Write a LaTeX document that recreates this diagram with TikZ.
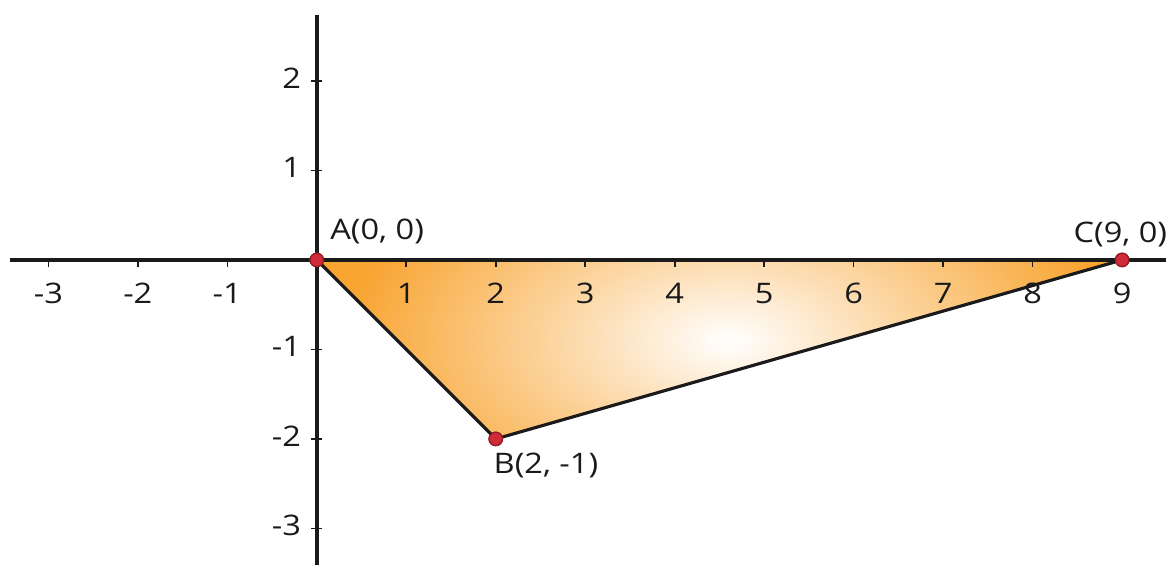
\documentclass[tikz,border=0pt]{standalone}
\usepackage{fontspec}
\setmainfont{Open Sans}[FakeStretch=1.15]
\usetikzlibrary{positioning}
\definecolor{Peel}{HTML}{F8A431}
\definecolor{Pin}{HTML}{D22B38}
\definecolor{Ink}{HTML}{1A1A1A}

\begin{document}
\begin{tikzpicture}[x=1cm,y=1cm,font=\fontsize{9}{11}\selectfont,
    dot/.style={circle,fill=Pin,draw=Pin!70!black,line width=0.4pt,inner sep=0pt,minimum size=0.15cm},
    lbl/.style={inner sep=0pt,text=Ink}]
        \useasboundingbox (-3.54,-3.45) rectangle (9.49,2.905);
        % shaded triangle
        \begin{scope}
          \clip (0,0) -- (2,-2) -- (9,0) -- cycle;
          \fill[Peel] (0,-2) rectangle (9,0);
          \shade[inner color=white,outer color=Peel] (4.6,-0.9) ellipse (4.3 and 2.3);
        \end{scope}
        % axes
        \coordinate (xl) at (-3.43,0);
        \coordinate (xr) at (9.49,0);
        \coordinate (yt) at (0,2.74);
        \coordinate (yb) at (0,-3.41);
        \draw[line width=1.2pt,Ink] (xl) -- (xr);
        \draw[line width=1.2pt,Ink] (yt) -- (yb);
        \foreach \i [count=\k] in {-3,-2,-1,1,2,3,4,5,6,7,8,9} {
          \draw[line width=0.5pt,Ink] (\i,0.02) -- (\i,-0.08);
          \node[lbl,anchor=north] (xn\k) at (\i,-0.25) {\i};
        }
        \foreach \i [count=\k] in {-3,-2,-1,1,2} {
          \draw[line width=0.5pt,Ink] (-0.06,\i) -- (0.06,\i);
          \node[lbl,anchor=east] (yn\k) at (-0.17,\i+0.03) {\i};
        }
        % points
        \node[dot] (A) at (0,0) {};
        \node[dot] (B) at (2,-2) {};
        \node[dot] (C) at (9,0) {};
        \draw[line width=1pt,Ink,line join=round] (A.center) -- (B.center) -- (C.center);
        \node[dot] at (A) {};
        \node[dot] at (B) {};
        \node[dot] at (C) {};
        \node[lbl,anchor=base west] (Alab) at (0.145,0.223) {A(0, 0)};
        \node[lbl,anchor=base west] (Blab) at (1.97,-2.39) {B(2, -1)};
        \node[lbl,anchor=base west] (Clab) at (8.45,0.20) {C(9, 0)};
\end{tikzpicture}
\end{document}
